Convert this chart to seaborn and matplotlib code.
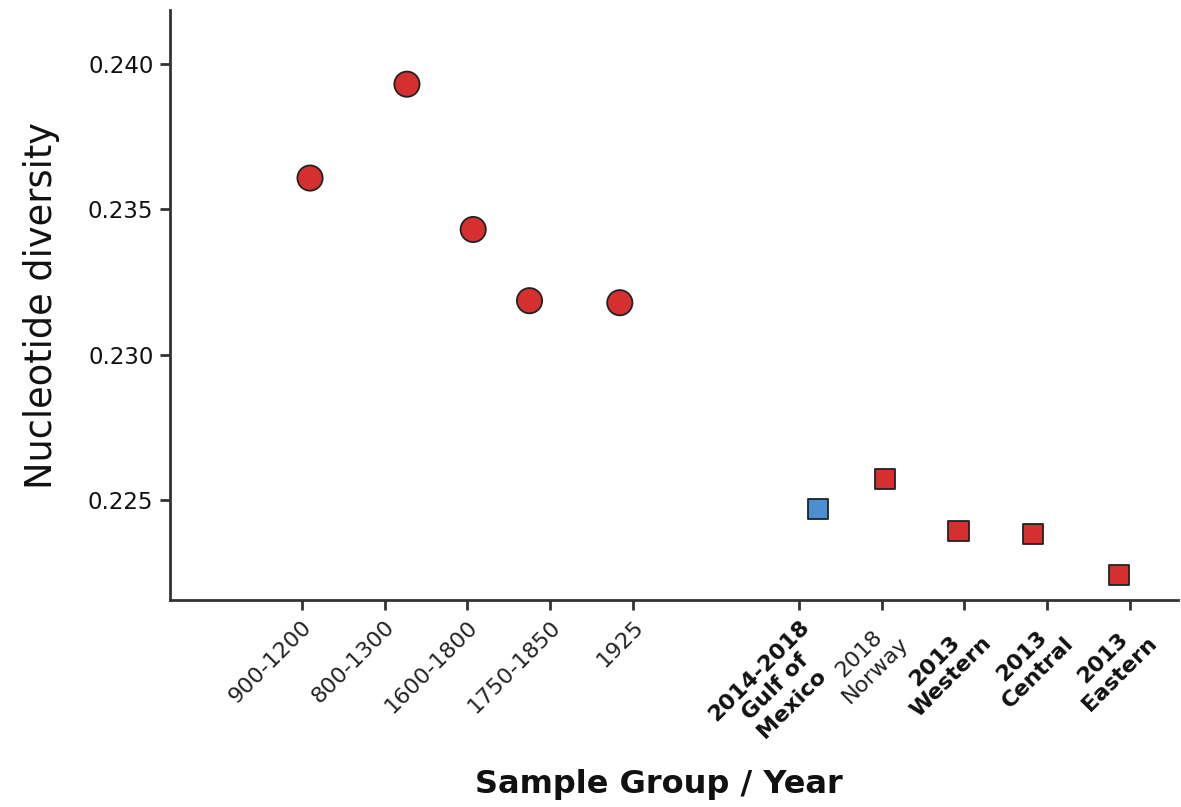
import matplotlib
matplotlib.use("Agg")
import matplotlib.pyplot as plt
import seaborn as sns
import pandas as pd

# Sample groups, in axis order
groups = ["900-1200", "800-1300", "1600-1800", "1750-1850", "1925",
          "2014-2018\nGulf of\nMexico", "2018\nNorway", "2013\nWestern",
          "2013\nCentral", "2013\nEastern"]
slots = [1, 2, 3, 4, 5, 7, 8, 9, 10, 11]
jitter = [0.10, 0.27, 0.07, -0.25, -0.16, 0.23, 0.04, -0.07, -0.17, -0.13]
diversity = [0.23608, 0.23931, 0.23431, 0.23186, 0.23179,
             0.22469, 0.22572, 0.22393, 0.22383, 0.22241]
era = ["historic"] * 5 + ["modern"] * 5
region = ["red"] * 5 + ["blue", "red", "red", "red", "red"]
bold_labels = [False] * 5 + [True, False, True, True, True]

df = pd.DataFrame({
    "group": groups,
    "x": [s + j for s, j in zip(slots, jitter)],
    "diversity": diversity,
    "era": era,
    "region": region,
})

palette = {"red": "#D62F2F", "blue": "#4A8FD2"}

sns.set_theme(style="ticks")
plt.rcParams["font.family"] = ["DejaVu Sans"]

fig = plt.figure(figsize=(11.81, 8.07), dpi=100)
ax = fig.add_axes([0.144, 0.2565, 0.8535, 0.731])

hist = df[df["era"] == "historic"]
mod = df[df["era"] == "modern"]
sns.scatterplot(data=hist, x="x", y="diversity", hue="region", palette=palette,
                marker="o", s=330, edgecolor="#222222", linewidth=1.3,
                legend=False, ax=ax, zorder=3)
sns.scatterplot(data=mod, x="x", y="diversity", hue="region", palette=palette,
                marker="s", s=215, edgecolor="#222222", linewidth=1.3,
                legend=False, ax=ax, zorder=3)

ax.set_xlim(-0.59, 11.58)
ax.set_ylim(0.22156, 0.24186)
ax.set_yticks([0.225, 0.230, 0.235, 0.240])
ax.set_yticklabels(["0.225", "0.230", "0.235", "0.240"], fontsize=16.5, color="#111111")
ax.set_xticks(slots)
ax.set_xticklabels(groups, rotation=45, ha="right", rotation_mode="anchor",
                   multialignment="center", fontsize=16, color="#111111",
                   linespacing=1.2)
for lbl, b in zip(ax.get_xticklabels(), bold_labels):
    if b:
        lbl.set_fontweight("bold")
    else:
        lbl.set_color("#222222")

for side in ["top", "right"]:
    ax.spines[side].set_visible(False)
for side in ["left", "bottom"]:
    ax.spines[side].set_linewidth(2.0)
    ax.spines[side].set_color("#333333")
ax.tick_params(axis="both", length=7, width=2.0, color="#333333", pad=5)

ax.set_ylabel("Nucleotide diversity", fontsize=26.5, labelpad=20, color="#111111")
ax.set_xlabel("Sample Group / Year", fontsize=23, fontweight="bold",
              color="#111111", va="center")
ax.xaxis.set_label_coords(0.485, -0.312)

fig.savefig("out.png", dpi=100)
